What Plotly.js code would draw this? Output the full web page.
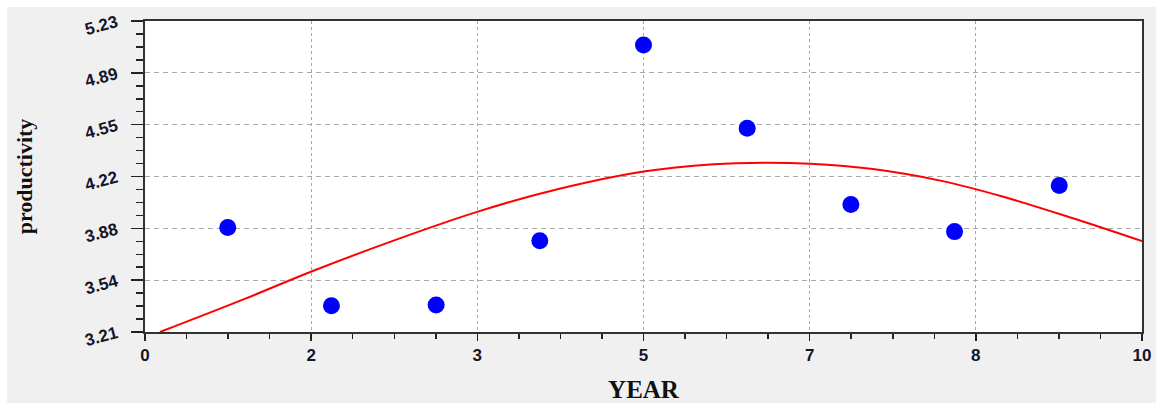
<!DOCTYPE html>
<html>
<head>
<meta charset="utf-8">
<script src="https://cdn.plot.ly/plotly-3.0.1.min.js"></script>
<style>
  html, body { margin: 0; padding: 0; background: #ffffff; }
  #chart { position: absolute; left: 7px; top: 7px; width: 1149px; height: 396px; }
</style>
</head>
<body>
<div id="chart"></div>
<script>
// Observed data points (YEAR, productivity)
const years = [0.83, 1.87, 2.92, 3.96, 5.0, 6.04, 7.08, 8.12, 9.17];
const productivity = [3.888, 3.380, 3.386, 3.803, 5.074, 4.533, 4.038, 3.862, 4.161];

// Fitted trend curve
const curveX = [0.15, 1.0, 1.67, 2.5, 3.33, 4.0, 5.0, 5.7, 6.22, 6.67, 7.3, 8.0, 8.6, 9.3, 10.0];
const curveY = [3.21, 3.425, 3.603, 3.805, 3.99, 4.115, 4.252, 4.30, 4.31, 4.303, 4.268, 4.19, 4.09, 3.95, 3.80];

// Tick labels
const xTickVals = [0, 1.6667, 3.3333, 5, 6.6667, 8.3333, 10];
const xTickText = ['0', '2', '3', '5', '7', '8', '10'];
const yTickVals = [3.21, 3.5467, 3.8833, 4.22, 4.5567, 4.8933, 5.23];
const yTickText = ['3.21', '3.54', '3.88', '4.22', '4.55', '4.89', '5.23'];

const traces = [
  {
    x: curveX, y: curveY, type: 'scatter', mode: 'lines',
    line: { color: '#ff0000', width: 2, shape: 'spline', smoothing: 1.0 },
    hoverinfo: 'skip', showlegend: false
  },
  {
    x: years, y: productivity, type: 'scatter', mode: 'markers',
    marker: { color: '#0000ff', size: 17, symbol: 'circle' },
    showlegend: false
  }
];

const tickFont = { family: 'Liberation Sans, Arial, sans-serif', size: 17, color: '#15152a', weight: 700 };

const layout = {
  width: 1149, height: 396,
  paper_bgcolor: '#f0f0f0',
  plot_bgcolor: '#ffffff',
  margin: { l: 138, r: 14, t: 14, b: 71 },
  showlegend: false,
  xaxis: {
    range: [0, 10],
    tickvals: xTickVals, ticktext: xTickText,
    tickfont: tickFont,
    ticks: 'outside', ticklen: 7, tickwidth: 1.5, tickcolor: '#222',
    minor: { dtick: 0.41667, tick0: 0, ticks: 'outside', ticklen: 5, tickwidth: 1.5, tickcolor: '#222', showgrid: false },
    showline: true, linecolor: '#333', linewidth: 2, mirror: true,
    showgrid: true, gridcolor: '#a8a8a8', griddash: '3px,3px', gridwidth: 1.2,
    zeroline: false,
    title: { text: 'YEAR', font: { family: 'Liberation Serif, Times New Roman, serif', size: 25, color: '#111', weight: 700 }, standoff: 18 }
  },
  yaxis: {
    range: [3.21, 5.23],
    tickvals: yTickVals, ticktext: yTickText,
    tickfont: tickFont, tickangle: -15, ticklabelstandoff: 11,
    ticks: 'outside', ticklen: 12, tickwidth: 1.5, tickcolor: '#222',
    minor: { dtick: 0.084167, tick0: 3.21, ticks: 'outside', ticklen: 7, tickwidth: 1.5, tickcolor: '#222', showgrid: false },
    showline: true, linecolor: '#333', linewidth: 2, mirror: true,
    showgrid: true, gridcolor: '#a8a8a8', griddash: '5px,4px', gridwidth: 1.2,
    zeroline: false,
    title: { text: 'productivity', font: { family: 'Liberation Serif, Times New Roman, serif', size: 22, color: '#111', weight: 700 }, standoff: 44 }
  }
};

Plotly.newPlot('chart', traces, layout, { staticPlot: true, displayModeBar: false });
</script>
</body>
</html>
